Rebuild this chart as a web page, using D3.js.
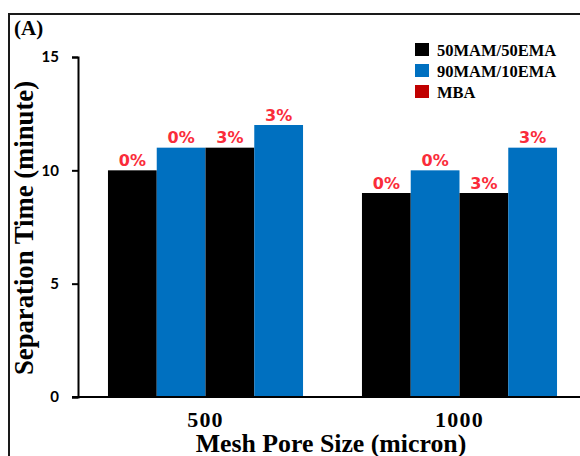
<!DOCTYPE html>
<html>
<head>
<meta charset="utf-8">
<script src="https://cdn.jsdelivr.net/npm/d3@7"></script>
<style>
  html, body { margin: 0; padding: 0; background: #fff; }
  svg { display: block; }
</style>
</head>
<body>
<svg id="chart" width="580" height="456"></svg>
<script>
// Mesh pore size groups on the x axis
const groups = ["500", "1000"];
// Bars inside each group: polymer blend and MBA content
const barPolymer = ["50MAM/50EMA", "90MAM/10EMA", "50MAM/50EMA", "90MAM/10EMA"];
const barMBA = ["0%", "0%", "3%", "3%"];
// Separation time (minute) per group, in bar order
const time500 = [10, 11, 11, 12];
const time1000 = [9, 10, 9, 11];
// Legend entries
const legendLabels = ["50MAM/50EMA", "90MAM/10EMA", "MBA"];
const legendColors = ["#000000", "#0070C0", "#C00000"];
// Y axis ticks
const yTicks = [0, 5, 10, 15];

const polymerColor = d3.scaleOrdinal().domain(["50MAM/50EMA", "90MAM/10EMA"]).range(["#000000", "#0070C0"]);

const rows = [
  { group: groups[0], values: time500 },
  { group: groups[1], values: time1000 }
];

const svg = d3.select("#chart");

// Outer frame
svg.append("rect")
  .attr("x", 9).attr("y", 14)
  .attr("width", 600).attr("height", 500)
  .attr("fill", "none")
  .attr("stroke", "#1a1a1a")
  .attr("stroke-width", 2);

svg.append("text")
  .attr("x", 14).attr("y", 35)
  .attr("font-family", "Liberation Serif")
  .attr("font-weight", "bold")
  .attr("font-size", 21)
  .attr("fill", "#000")
  .text("(A)");

const axisX = 78, axisY0 = 397, axisYTop = 57;

const y = d3.scaleLinear().domain([0, 15]).range([axisY0, axisYTop]);
const x0 = d3.scaleBand().domain(groups).range([axisX, 587]).paddingInner(0.232).paddingOuter(0.118);
const x1 = d3.scaleBand().domain(d3.range(barPolymer.length)).range([0, x0.bandwidth()]).padding(0);

// Bars with MBA content labels
const g = svg.append("g");
rows.forEach(row => {
  const gg = g.append("g").attr("transform", `translate(${x0(row.group)},0)`);
  gg.selectAll("rect")
    .data(row.values)
    .join("rect")
    .attr("x", (d, i) => x1(i))
    .attr("y", d => y(d))
    .attr("width", x1.bandwidth())
    .attr("height", d => y(0) - y(d))
    .attr("fill", (d, i) => polymerColor(barPolymer[i]));
  gg.selectAll("text")
    .data(row.values)
    .join("text")
    .attr("x", (d, i) => x1(i) + x1.bandwidth() / 2)
    .attr("y", d => y(d) - 4.5)
    .attr("text-anchor", "middle")
    .attr("font-family", "DejaVu Sans")
    .attr("font-weight", "bold")
    .attr("font-size", 16)
    .attr("fill", "#fa2c3a")
    .text((d, i) => barMBA[i]);
});

// Y axis
const yAxis = svg.append("g")
  .attr("transform", `translate(${axisX},0)`)
  .call(d3.axisLeft(y).tickValues(yTicks).tickSize(6).tickSizeOuter(6).tickPadding(13).tickFormat(d3.format("d")));
yAxis.select(".domain").attr("stroke", "#000").attr("stroke-width", 2);
yAxis.selectAll(".tick line").attr("stroke", "#000").attr("stroke-width", 2);
yAxis.selectAll(".tick text")
  .attr("font-family", "Lato")
  .attr("font-weight", "bold")
  .attr("font-size", 15)
  .attr("fill", "#000");

// X axis baseline
svg.append("line")
  .attr("x1", axisX - 6).attr("x2", 580)
  .attr("y1", y(0)).attr("y2", y(0))
  .attr("stroke", "#000").attr("stroke-width", 2);

// Group labels
svg.selectAll(".grp")
  .data(groups)
  .join("text")
  .attr("class", "grp")
  .attr("x", d => x0(d) + x0.bandwidth() / 2)
  .attr("y", 427)
  .attr("text-anchor", "middle")
  .attr("font-family", "Liberation Serif")
  .attr("font-weight", "bold")
  .attr("font-size", 22)
  .attr("letter-spacing", 1.2)
  .attr("fill", "#000")
  .text(d => d);

// Axis titles
svg.append("text")
  .attr("x", 331).attr("y", 452)
  .attr("text-anchor", "middle")
  .attr("font-family", "Liberation Serif")
  .attr("font-weight", "bold")
  .attr("font-size", 25.8)
  .attr("fill", "#000")
  .text("Mesh Pore Size (micron)");

svg.append("text")
  .attr("transform", "translate(33,228) rotate(-90)")
  .attr("text-anchor", "middle")
  .attr("font-family", "Liberation Serif")
  .attr("font-weight", "bold")
  .attr("font-size", 26.7)
  .attr("fill", "#000")
  .text("Separation Time (minute)");

// Legend
const legend = svg.append("g").attr("transform", "translate(415,43)");
const items = legend.selectAll("g")
  .data(legendLabels)
  .join("g")
  .attr("transform", (d, i) => `translate(0,${i * 21})`);
items.append("rect")
  .attr("width", 14).attr("height", 13)
  .attr("fill", (d, i) => legendColors[i]);
items.append("text")
  .attr("x", 22).attr("y", 12.5)
  .attr("font-family", "Liberation Serif")
  .attr("font-weight", "bold")
  .attr("font-size", 16.5)
  .attr("fill", "#000")
  .text(d => d);
</script>
</body>
</html>
